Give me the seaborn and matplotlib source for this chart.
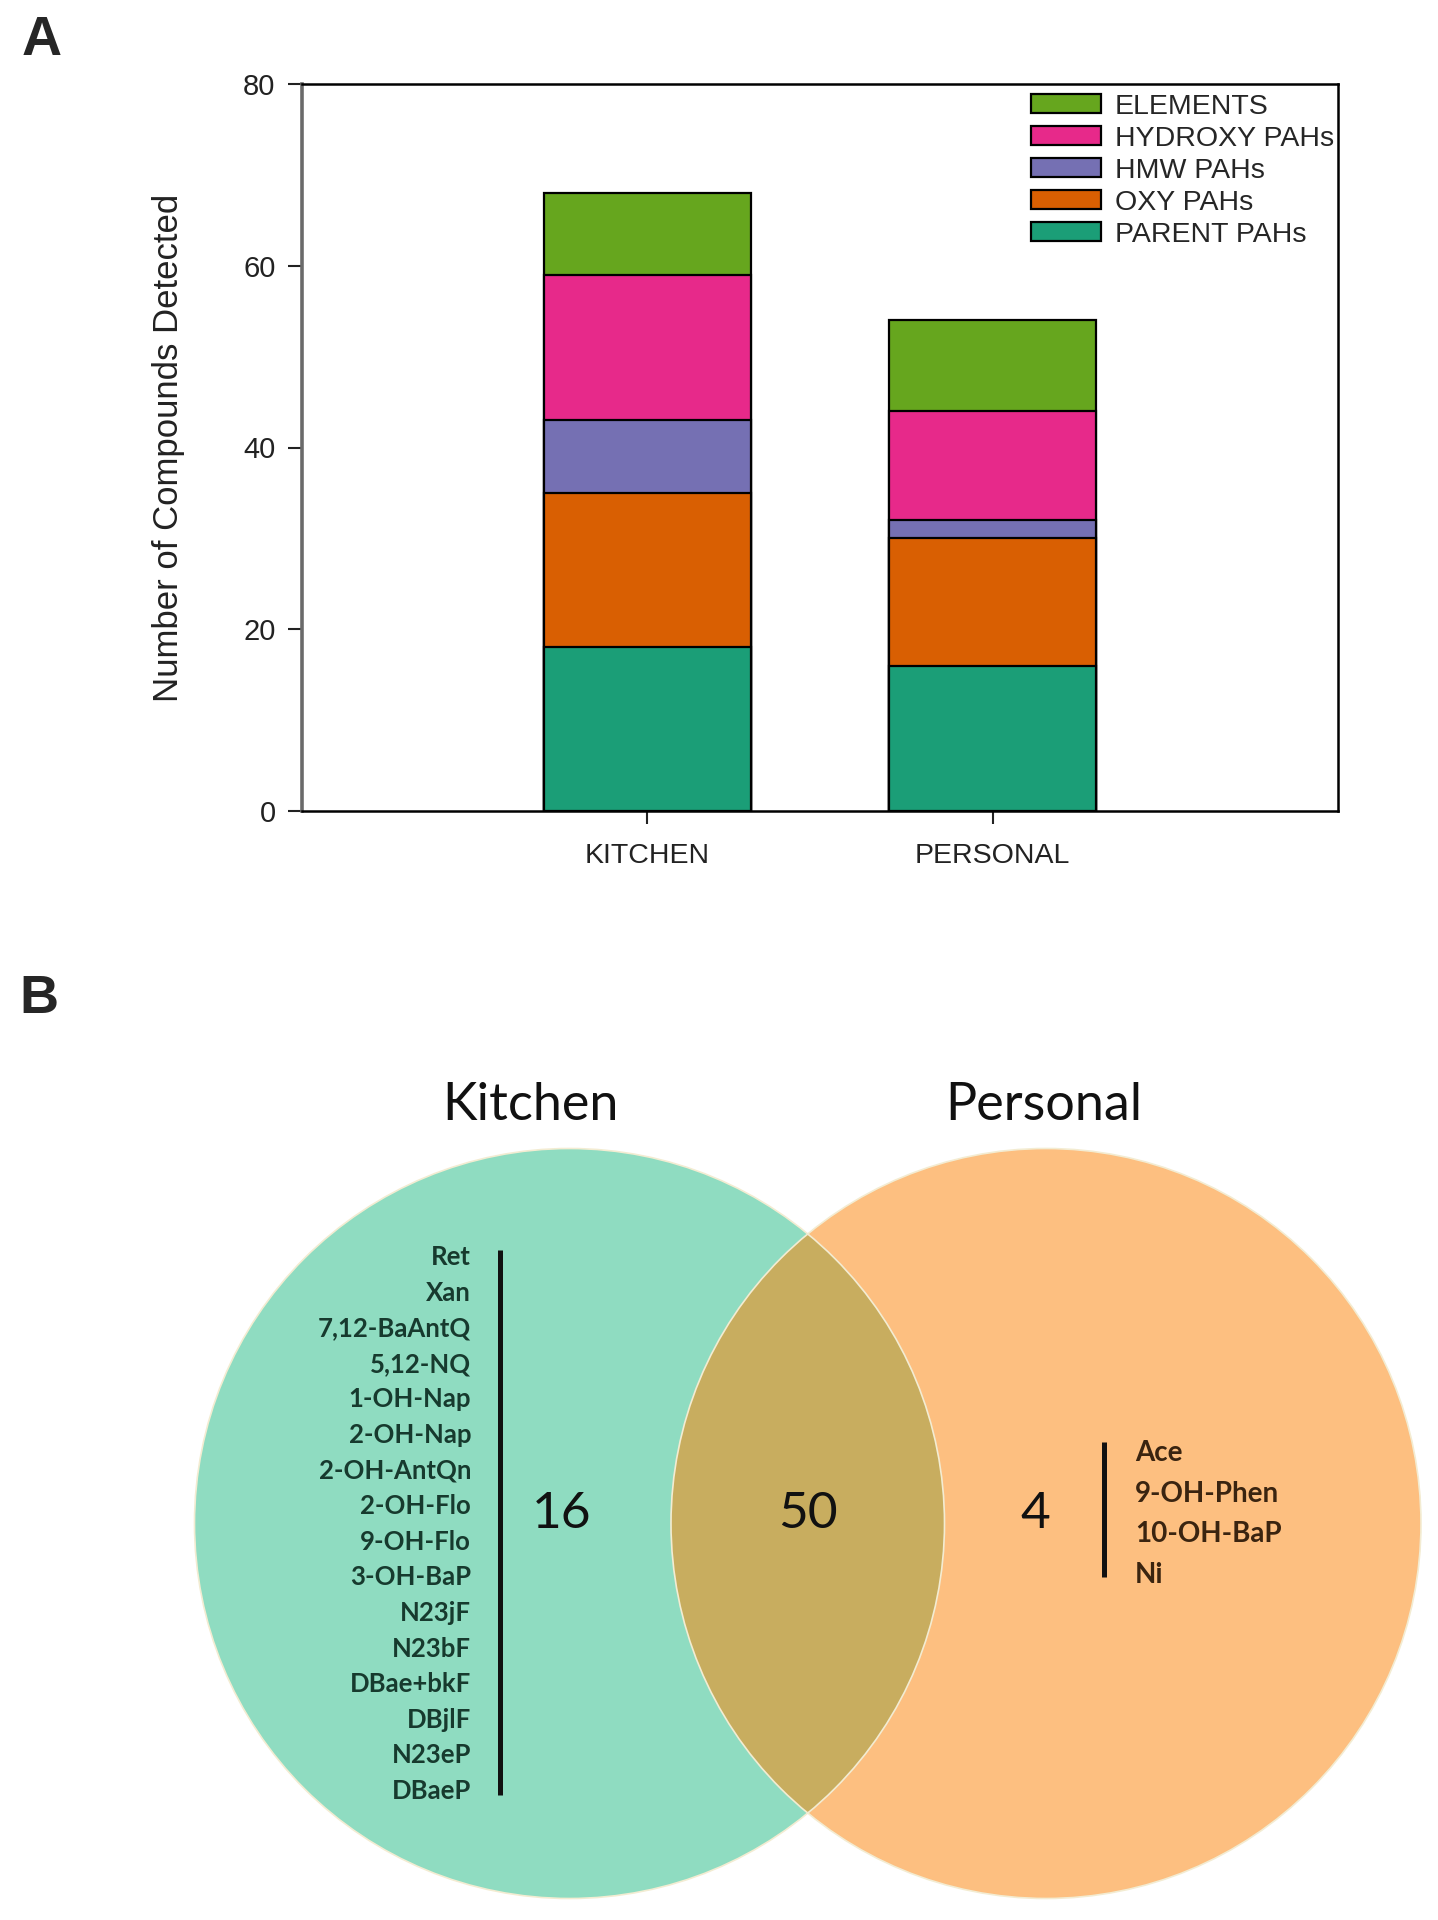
import numpy as np
import pandas as pd
import matplotlib
matplotlib.use("Agg")
import matplotlib.pyplot as plt
import seaborn as sns
from matplotlib.patches import Circle, Patch

# ---------------- data ----------------
sites = ["KITCHEN", "PERSONAL"]
groups = ["PARENT PAHs", "OXY PAHs", "HMW PAHs", "HYDROXY PAHs", "ELEMENTS"]  # bottom -> top
parent_pahs = [18, 16]
oxy_pahs = [17, 14]
hmw_pahs = [8, 2]
hydroxy_pahs = [16, 12]
elements = [9, 10]
group_colors = ["#1b9e77", "#d95f02", "#7570b3", "#e7298a", "#66a61e"]
y_ticks = [0, 20, 40, 60, 80]

venn_titles = ["Kitchen", "Personal"]
kitchen_only_n = 16
shared_n = 50
personal_only_n = 4
kitchen_only = ["Ret", "Xan", "7,12-BaAntQ", "5,12-NQ", "1-OH-Nap", "2-OH-Nap",
                "2-OH-AntQn", "2-OH-Flo", "9-OH-Flo", "3-OH-BaP", "N23jF", "N23bF",
                "DBae+bkF", "DBjlF", "N23eP", "DBaeP"]
personal_only = ["Ace", "9-OH-Phen", "10-OH-BaP", "Ni"]

# ---------------- figure ----------------
sns.set_style("white")
plt.rcParams["font.family"] = ["Liberation Sans", "DejaVu Sans"]

W, H = 1438, 1920
fig = plt.figure(figsize=(W / 100, H / 100), dpi=100)

# Venn canvas (pixel coordinates)
axv = fig.add_axes([0, 0, 1, 1], zorder=0)
axv.set_xlim(0, W)
axv.set_ylim(H, 0)
axv.axis("off")

# ---------------- panel A : stacked bars ----------------
ax = fig.add_axes([302 / W, 1 - 811 / H, (1338 - 302) / W, (811 - 84) / H], zorder=2)

values = [parent_pahs, oxy_pahs, hmw_pahs, hydroxy_pahs, elements]
df = pd.DataFrame({"site": np.repeat(sites, len(groups)),
                   "group": groups * len(sites),
                   "value": [values[g][s] for s in range(len(sites)) for g in range(len(groups))]})
df["group"] = pd.Categorical(df["group"], categories=groups, ordered=True)
df = df.sort_values(["site", "group"])
df["cum"] = df.groupby("site")["value"].cumsum()

for g, c in zip(groups[::-1], group_colors[::-1]):
    sub = df[df["group"] == g]
    sns.barplot(data=sub, x="site", y="cum", order=sites, color=c, width=0.6,
                edgecolor="black", linewidth=1.6, errorbar=None, ax=ax, saturation=1)

ax.set_xlim(-1, 2)
ax.set_ylim(0, 80)
ax.set_yticks(y_ticks)
ax.set_xlabel("")
ax.set_ylabel("Number of Compounds Detected", fontsize=25, color="#222222", labelpad=42)
ax.tick_params(axis="y", direction="out", length=10, width=1.5, pad=9,
               labelsize=21, colors="#222222", left=True)
ax.tick_params(axis="x", direction="out", length=9, width=1.5, pad=14,
               labelsize=20.5, colors="#222222", bottom=True)
for side in ["top", "right", "bottom"]:
    ax.spines[side].set_color("black")
    ax.spines[side].set_linewidth(1.8)
    ax.spines[side].set_visible(True)
ax.spines["left"].set_color("#6a6a6a")
ax.spines["left"].set_linewidth(2.6)
ax.spines["left"].set_visible(True)

handles = [Patch(facecolor=c, edgecolor="black", linewidth=1.6, label=g)
           for g, c in zip(groups[::-1], group_colors[::-1])]
leg_fs = 20.5
fs_px = leg_fs * 100 / 72


def make_legend(spacing, top):
    return fig.legend(handles=handles, loc="upper left",
                      bbox_to_anchor=(1031 / W, 1 - top / H), bbox_transform=fig.transFigure,
                      frameon=False, fontsize=leg_fs, borderpad=0, borderaxespad=0,
                      handlelength=2.45, handleheight=0.62, handletextpad=0.5,
                      labelspacing=spacing)


def legend_rows(lg):
    fig.canvas.draw()
    rr = fig.canvas.get_renderer()
    cs = [(t.get_window_extent(rr).y0 + t.get_window_extent(rr).y1) / 2 for t in lg.get_texts()]
    return H - cs[0], (cs[0] - cs[-1]) / (len(cs) - 1)


ls, top = 0.12, 91.0
leg = make_legend(ls, top)
for _ in range(2):
    first, step = legend_rows(leg)
    ls = ls + (32.0 - step) / fs_px
    top = top + (106.7 - first)
    leg.remove()
    leg = make_legend(ls, top)
    first, step = legend_rows(leg)
    top = top + (106.7 - first)
    leg.remove()
    leg = make_legend(ls, top)

fig.text(22 / W, 1 - 55 / H, "A", fontsize=40, fontweight="bold", ha="left", va="baseline")
fig.text(19 / W, 1 - 1013 / H, "B", fontsize=39, fontweight="bold", ha="left", va="baseline")

# ---------------- panel B : Venn ----------------
vfont = ["Lato", "DejaVu Sans"]
kc = (569.5, 1523.5)
pc = (1046, 1523.5)
r = 375
teal = Circle(kc, r, facecolor="#8fdcc1", edgecolor="none", zorder=1)
orange = Circle(pc, r, facecolor="#fdbf80", edgecolor="none", zorder=2)
axv.add_patch(teal)
axv.add_patch(orange)
lens = Circle(pc, r, facecolor="#c8ad5f", edgecolor="none", zorder=3)
axv.add_patch(lens)
lens.set_clip_path(teal)
for cc in (kc, pc):
    axv.add_patch(Circle(cc, r, fill=False, edgecolor="#f3ecd2", linewidth=1.2, zorder=4))

axv.text(530, 1120, venn_titles[0], fontsize=37.5, family=vfont, ha="center", va="baseline", color="#111111")
axv.text(1044, 1120, venn_titles[1], fontsize=37.5, family=vfont, ha="center", va="baseline", color="#111111")

axv.text(562, 1514, str(kitchen_only_n), fontsize=37, family=vfont, ha="center", va="center", color="#111111", zorder=5)
axv.text(808, 1514, str(shared_n), fontsize=37, family=vfont, ha="center", va="center", color="#111111", zorder=5)
axv.text(1035.5, 1514, str(personal_only_n), fontsize=37, family=vfont, ha="center", va="center", color="#111111", zorder=5)

ky0, kdy = 1257, 35.6
for i, name in enumerate(kitchen_only):
    axv.text(471, ky0 + i * kdy, name, fontsize=18.5, fontweight="bold", family=vfont,
             ha="right", va="center", color="#173a2e", zorder=5)
axv.plot([500, 500], [1250, 1795], color="#111111", linewidth=3.6, solid_capstyle="butt", zorder=5)

py0, pdy = 1453, 40.7
for i, name in enumerate(personal_only):
    axv.text(1135, py0 + i * pdy, name, fontsize=20, fontweight="bold", family=vfont,
             ha="left", va="center", color="#3a2410", zorder=5)
axv.plot([1104, 1104], [1442, 1577], color="#111111", linewidth=3.6, solid_capstyle="butt", zorder=5)

fig.savefig("out.png", dpi=100, facecolor="white")
